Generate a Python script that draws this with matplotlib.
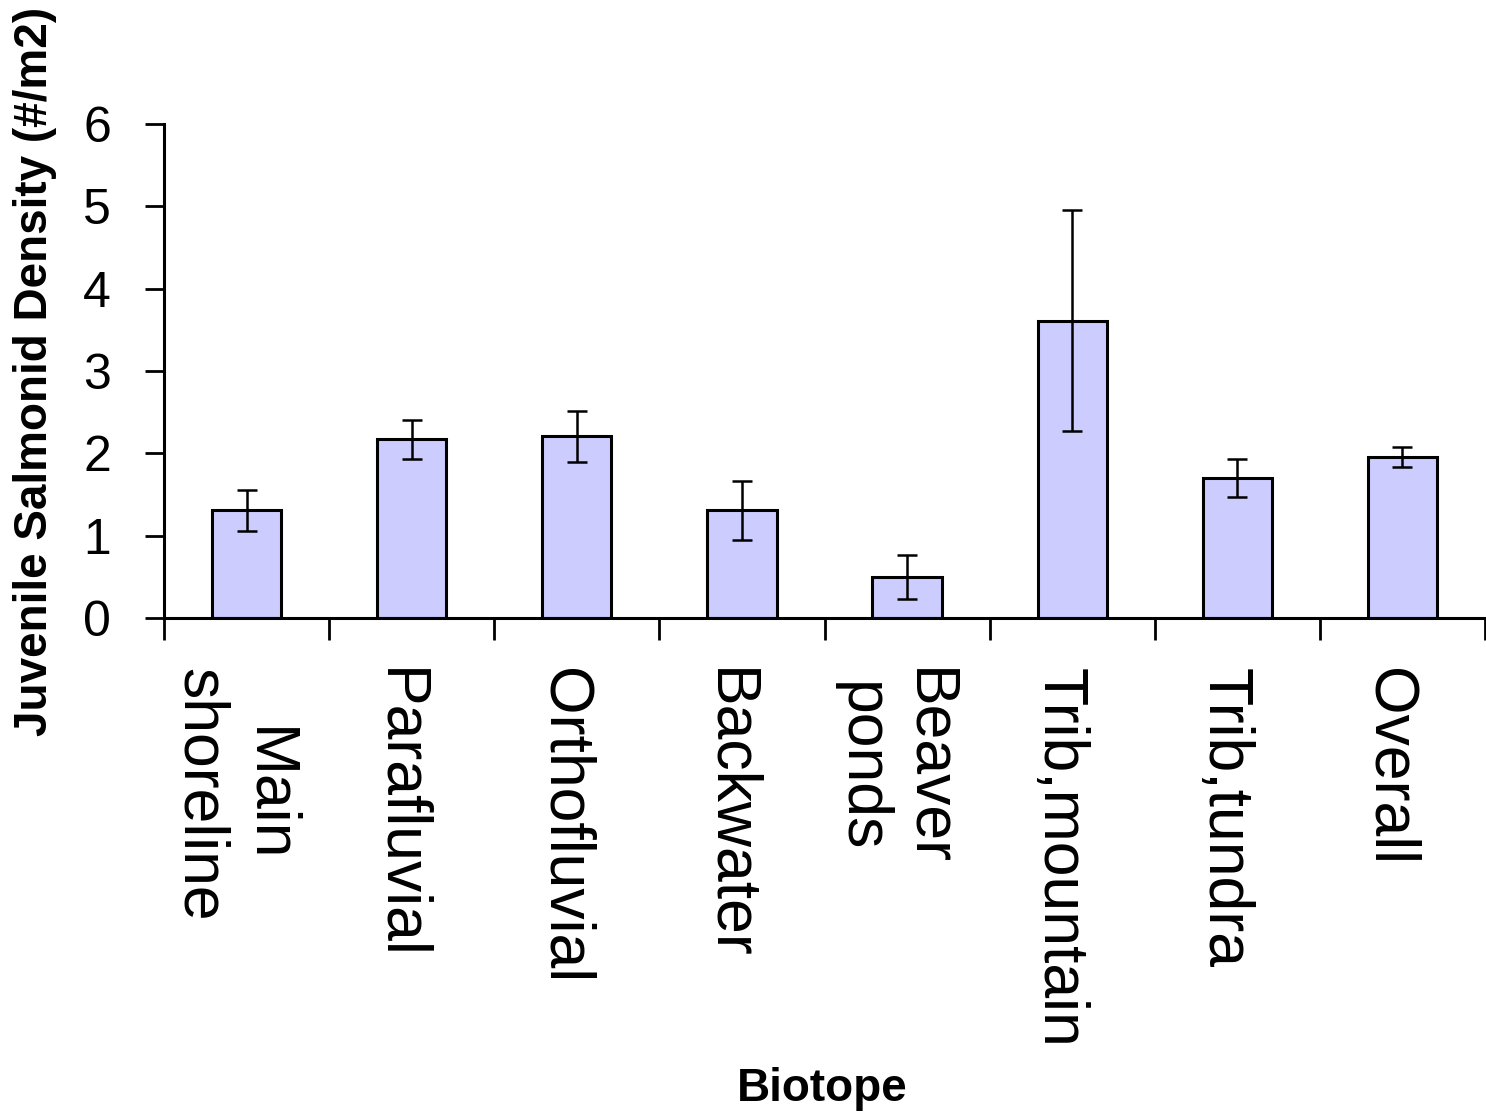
import numpy as np
import matplotlib
matplotlib.use('Agg')
from matplotlib import pyplot as plt
from matplotlib.transforms import ScaledTranslation

plt.rcParams['font.family'] = ['Liberation Sans', 'DejaVu Sans']

biotopes = ['Main\nshoreline', 'Parafluvial', 'Orthofluvial', 'Backwater',
            'Beaver\nponds', 'Trib,mountain', 'Trib,tundra', 'Overall']
density = [1.31, 2.17, 2.21, 1.31, 0.50, 3.61, 1.70, 1.96]
err = [0.25, 0.24, 0.31, 0.36, 0.27, 1.34, 0.23, 0.12]
yticks = [0, 1, 2, 3, 4, 5, 6]

W, H = 1486, 1113
fig = plt.figure(figsize=(W / 100, H / 100), dpi=100)
ax = fig.add_axes([164 / W, (H - 618) / H, (1485 - 164) / W, (618 - 124) / H])

x = np.arange(len(biotopes))
ax.bar(x, density, width=0.42, color='#CCCCFF', edgecolor='black', linewidth=2.2,
       zorder=2)
ax.errorbar(x, density, yerr=err, fmt='none', ecolor='black', elinewidth=1.8,
            capsize=7, capthick=1.8, zorder=3)

ax.set_xlim(-0.5, len(biotopes) - 0.5)
ax.set_ylim(0, 6)
ax.set_yticks(yticks)
ax.set_yticklabels([str(v) for v in yticks], fontsize=36)

ax.set_xticks(x)
ax.set_xticklabels(biotopes, rotation=270, fontsize=45, ha='center', va='top',
                   multialignment='center')
ax.set_xticks(np.arange(-0.5, len(biotopes)), minor=True)
ax.tick_params(axis='x', which='major', length=0, pad=36)
ax.tick_params(axis='x', which='minor', direction='out', length=16, width=2)
ax.tick_params(axis='y', direction='out', length=14, width=2, pad=24)

# nudge the rotated category labels a little to the left
shift = ScaledTranslation(-13 / 100, 0, fig.dpi_scale_trans)
for lab in ax.get_xticklabels():
    lab.set_transform(lab.get_transform() + shift)

for s in ['top', 'right']:
    ax.spines[s].set_visible(False)
for s in ['left', 'bottom']:
    ax.spines[s].set_linewidth(2.2)

fig.text(35 / W, 1 - 371 / H, 'Juvenile Salmonid Density (#/m2)', rotation=90,
         ha='center', va='center', fontsize=33, fontweight='bold')
fig.text(822 / W, 1 - 1089 / H, 'Biotope', ha='center', va='center',
         fontsize=33, fontweight='bold')

fig.savefig('out.png', dpi=100)
